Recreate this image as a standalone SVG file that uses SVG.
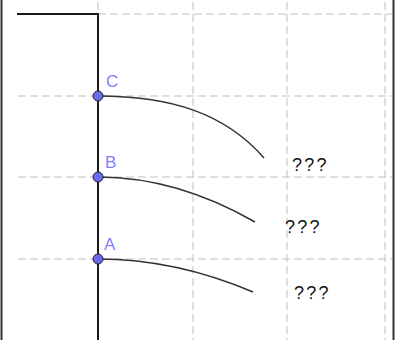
<svg xmlns="http://www.w3.org/2000/svg" width="395" height="340" viewBox="0 0 395 340">
<style>
.grid{stroke:#c0c0c0;stroke-width:1;stroke-dasharray:8 4;fill:none}
.axis{stroke:#1a1a1a;stroke-width:2;fill:none}
.curve{stroke:#333;stroke-width:1.5;fill:none}
.pt{fill:#6a6af2;stroke:#222;stroke-width:1}
.lbl{font-family:"Liberation Sans",Arial,sans-serif;font-size:17px;fill:#8080ff}
.q{font-family:"Liberation Sans",Arial,sans-serif;font-size:18px;fill:#111;letter-spacing:2.3px}
</style>
<rect x="0" y="0" width="395" height="340" fill="#fff"/>
<g id="grid">
<line class="grid" x1="98" y1="14" x2="393" y2="14"/>
<line class="grid" x1="18" y1="96" x2="393" y2="96"/>
<line class="grid" x1="18" y1="177" x2="393" y2="177"/>
<line class="grid" x1="18" y1="259" x2="393" y2="259"/>
<line class="grid" x1="98" y1="2" x2="98" y2="340"/>
<line class="grid" x1="193" y1="2" x2="193" y2="340"/>
<line class="grid" x1="287" y1="2" x2="287" y2="340"/>
<line class="grid" x1="385" y1="2" x2="385" y2="340"/>
</g>
<g id="frame">
<line x1="1.5" y1="0" x2="1.5" y2="340" stroke="#333" stroke-width="2"/>
<line x1="393.5" y1="0" x2="393.5" y2="340" stroke="#333" stroke-width="2"/>
</g>
<g id="connectors">
<polyline class="axis" points="17,14 98,14 98,340"/>
<path class="curve" d="M98,96 C170,96 225,113 264,158"/>
<path class="curve" d="M98,177 Q176.5,177 255,222"/>
<path class="curve" d="M98,259 Q175.5,259 253,292"/>
</g>
<g id="C">
<circle class="pt" cx="98" cy="96" r="5"/>
<text class="lbl" x="106" y="87">C</text>
</g>
<g id="B">
<circle class="pt" cx="98" cy="177" r="5"/>
<text class="lbl" x="105" y="168">B</text>
</g>
<g id="A">
<circle class="pt" cx="98" cy="259" r="5"/>
<text class="lbl" x="104" y="250">A</text>
</g>
<g id="q1"><text class="q" x="292" y="171">???</text></g>
<g id="q2"><text class="q" x="285" y="233">???</text></g>
<g id="q3"><text class="q" x="294" y="299">???</text></g>
</svg>
